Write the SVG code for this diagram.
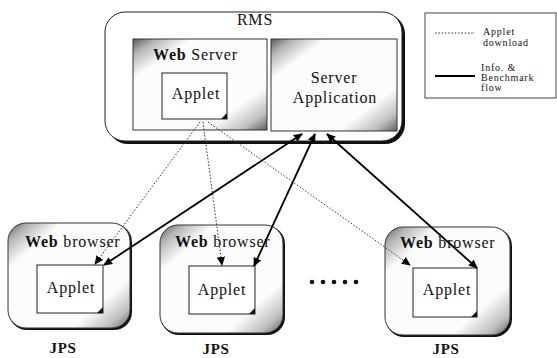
<svg xmlns="http://www.w3.org/2000/svg" width="557" height="358" viewBox="0 0 557 358">
  <style>
    .lbl { font-family: "Liberation Serif", "Times New Roman", serif; fill: #111; }
    .big { font-size: 16px; letter-spacing: 0.8px; }
    .jps { font-size: 15px; letter-spacing: 0.6px; font-weight: bold; }
    .small { font-size: 10px; letter-spacing: 0.8px; }
    .frame { fill: #fff; stroke: #222; stroke-width: 1; }
    .shadow { fill: #111; }
    .shaded { fill: url(#shade); stroke: #333; stroke-width: 1; }
    .applet { fill: #fff; stroke: #222; stroke-width: 1; }
    .ear { fill: #111; }
    .dl { fill: none; stroke: #333; stroke-width: 1; stroke-dasharray: 1.5 1.8; }
    .flow { fill: none; stroke: #000; stroke-width: 1.8; }
  </style>
  <defs>
    <!-- corner shading: darker top-left and bottom-right, white centre -->
    <linearGradient id="shade" x1="0" y1="0" x2="1" y2="1">
      <stop offset="0" stop-color="#5a5a5a"/>
      <stop offset="0.09" stop-color="#b4b4b4"/>
      <stop offset="0.22" stop-color="#fcfcfc"/>
      <stop offset="0.76" stop-color="#fcfcfc"/>
      <stop offset="0.9" stop-color="#c0c0c0"/>
      <stop offset="1" stop-color="#5e5e5e"/>
    </linearGradient>
    <marker id="ah" viewBox="0 0 10 10" refX="9" refY="5" markerWidth="9" markerHeight="9" markerUnits="userSpaceOnUse" orient="auto-start-reverse">
      <path d="M0,0.5 L10,5 L0,9.5 z" fill="#000"/>
    </marker>
  </defs>

  <!-- RMS host -->
  <g id="rms">
    <rect class="shadow" x="108" y="14" width="297" height="130" rx="20"/>
    <rect class="frame" x="105" y="12" width="297" height="129" rx="20"/>
    <text class="lbl big" x="255" y="25" text-anchor="middle">RMS</text>
  </g>

  <g id="web-server">
    <rect class="shaded" x="133" y="39" width="134" height="91"/>
    <text class="lbl big" x="153" y="60"><tspan font-weight="bold">Web</tspan> Server</text>
  </g>

  <g id="server-applet">
    <rect class="applet" x="162" y="73" width="65" height="46"/>
    <path class="ear" d="M227,113 L227,119 L221,119 z"/>
    <text class="lbl big" x="196" y="99" text-anchor="middle">Applet</text>
  </g>

  <g id="server-application">
    <rect class="shaded" x="271" y="39" width="126" height="92"/>
    <text class="lbl big" x="334" y="83" text-anchor="middle">Server</text>
    <text class="lbl big" x="335" y="103" text-anchor="middle">Application</text>
  </g>

  <!-- Legend -->
  <g id="legend">
    <rect x="425" y="13" width="131" height="85" fill="#fff" stroke="#444" stroke-width="1"/>
    <line class="dl" x1="435" y1="33" x2="475" y2="33"/>
    <text class="lbl small" x="483" y="35">Applet</text>
    <text class="lbl small" x="483" y="46">download</text>
    <line x1="435" y1="76" x2="475" y2="76" stroke="#000" stroke-width="1.8"/>
    <text class="lbl small" x="481" y="71">Info. &amp;</text>
    <text class="lbl small" x="481" y="81">Benchmark</text>
    <text class="lbl small" x="481" y="91">flow</text>
  </g>

  <!-- Client sites -->
  <g id="jps-1">
    <rect class="shadow" x="9" y="224" width="123" height="106" rx="18"/>
    <rect class="shaded" x="8" y="223" width="122" height="105" rx="18"/>
    <text class="lbl big" x="25" y="247"><tspan font-weight="bold">Web</tspan> browser</text>
    <rect class="applet" x="37" y="265" width="66" height="48"/>
    <path class="ear" d="M103,307 L103,313 L97,313 z"/>
    <text class="lbl big" x="71" y="293" text-anchor="middle">Applet</text>
    <text class="lbl jps" x="63" y="353" text-anchor="middle">JPS</text>
  </g>

  <g id="jps-2">
    <rect class="shadow" x="161" y="226" width="124" height="109" rx="18"/>
    <rect class="shaded" x="160" y="225" width="123" height="108" rx="18"/>
    <text class="lbl big" x="175" y="247"><tspan font-weight="bold">Web</tspan> browser</text>
    <rect class="applet" x="189" y="266" width="66" height="48"/>
    <path class="ear" d="M255,308 L255,314 L249,314 z"/>
    <text class="lbl big" x="222" y="295" text-anchor="middle">Applet</text>
    <text class="lbl jps" x="216" y="354" text-anchor="middle">JPS</text>
  </g>

  <g id="more-sites">
    <circle cx="312" cy="282" r="2.3" fill="#111"/>
    <circle cx="323" cy="282" r="2.3" fill="#111"/>
    <circle cx="334" cy="282" r="2.3" fill="#111"/>
    <circle cx="345" cy="282" r="2.3" fill="#111"/>
    <circle cx="356" cy="282" r="2.3" fill="#111"/>
  </g>

  <g id="jps-3">
    <rect class="shadow" x="386" y="228" width="126" height="109" rx="18"/>
    <rect class="shaded" x="385" y="227" width="125" height="108" rx="18"/>
    <text class="lbl big" x="400" y="248"><tspan font-weight="bold">Web</tspan> browser</text>
    <rect class="applet" x="413" y="268" width="64" height="49"/>
    <path class="ear" d="M477,311 L477,317 L471,317 z"/>
    <text class="lbl big" x="447" y="295" text-anchor="middle">Applet</text>
    <text class="lbl jps" x="446" y="354" text-anchor="middle">JPS</text>
  </g>

  <!-- Connectors: applet download (dotted) and info/benchmark flow (solid) -->
  <g id="connectors">
    <line class="dl" x1="200" y1="122" x2="95" y2="264" marker-end="url(#ah)"/>
    <line class="dl" x1="203" y1="122" x2="222" y2="265" marker-end="url(#ah)"/>
    <line class="dl" x1="208" y1="122" x2="410" y2="265" marker-end="url(#ah)"/>
    <line class="flow" x1="302" y1="134" x2="104" y2="265" marker-start="url(#ah)" marker-end="url(#ah)"/>
    <line class="flow" x1="315" y1="134" x2="254" y2="266" marker-start="url(#ah)" marker-end="url(#ah)"/>
    <line class="flow" x1="327" y1="134" x2="477" y2="268" marker-start="url(#ah)" marker-end="url(#ah)"/>
  </g>
</svg>
